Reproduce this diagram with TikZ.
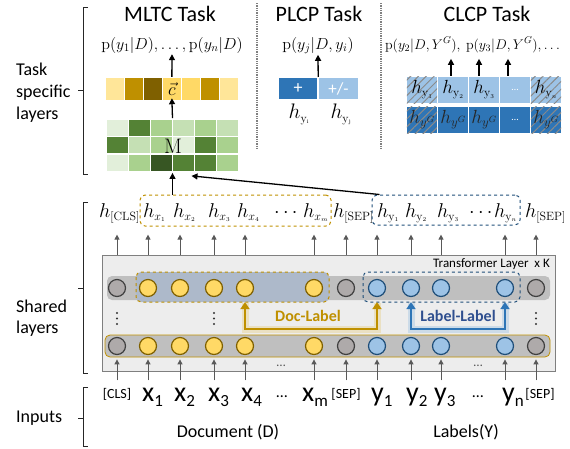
\RequirePackage{fix-cm}
\documentclass[tikz,border=0pt]{standalone}
\usepackage[no-math]{fontspec}
\setmainfont{Carlito}
\usetikzlibrary{arrows.meta,patterns.meta,calc,fit}
\definecolor{gold}{HTML}{BF9000}
\definecolor{golddark}{HTML}{7F6000}
\definecolor{yel}{HTML}{FFD966}
\definecolor{yellight}{HTML}{FFE699}
\definecolor{bblue}{HTML}{2E75B6}
\definecolor{lblue}{HTML}{9DC3E6}
\definecolor{navy}{HTML}{1F4E79}
\definecolor{llnavy}{HTML}{2F4F8F}
\definecolor{cgfill}{HTML}{AEAAAA}
\definecolor{bandgray}{HTML}{BFBFBF}
\definecolor{docfill}{HTML}{ADB9CA}
\definecolor{boxfill}{HTML}{EDEDED}
\definecolor{boxline}{HTML}{7F7F7F}
\definecolor{agray}{HTML}{595959}
\definecolor{hatch}{HTML}{8A8A8A}
\newcommand\fs[1]{\fontsize{#1}{#1}\selectfont}
\newcommand\inlab[2]{{\fs{28}#1}\raisebox{-5pt}{\fs{17}#2}}
% h with a subscript of a set size
\newcommand\hx[2][3pt]{$h$\raisebox{-#1}{\fs{12}$#2$}}
\newcommand\ssn[1]{_{\scriptscriptstyle #1}}
\begin{document}
\begin{tikzpicture}[x=1pt,y=-1pt,
  title/.style={anchor=base,inner sep=0,font=\fs{22}},
  side/.style={anchor=base west,inner sep=0,font=\fs{18}},
  bracket/.style={line width=1pt,black!85},
  sepline/.style={line width=1.3pt,gray,densely dotted},
  blkarrow/.style={-{Triangle[length=6pt,width=6pt]},line width=1.3pt,black},
  garrow/.style={-{Triangle[length=5pt,width=5pt]},line width=1pt,agray},
  cellbox/.style={rectangle,inner sep=0,minimum width=#1},
  hlab/.style={anchor=base west,inner sep=0,font=\fs{20}},
  inlbl/.style={anchor=base west,inner sep=0},
  small/.style={anchor=base,inner sep=0,font=\fs{14}},
  hatchfill/.style={pattern={Lines[angle=45,distance=5.5pt,line width=1pt]},pattern color=hatch},
  cg/.style={circle,minimum size=17,inner sep=0,line width=1.2pt,draw=black!75,fill=cgfill},
  cy/.style={circle,minimum size=17,inner sep=0,line width=1.2pt,draw=golddark,fill=yel},
  cb/.style={circle,minimum size=17,inner sep=0,line width=1.2pt,draw=navy,fill=lblue},
]
\useasboundingbox (0,0) rectangle (570,448);

% ---------- titles and separators
\node[title] (t1) at (170,21) {MLTC Task};
\node[title] (t2) at (319,21) {PLCP Task};
\node[title] (t3) at (487,21) {CLCP Task};
\draw[sepline] (257,3) -- (257,148);
\draw[sepline] (381,3) -- (381,150);

% ---------- side labels and brackets
\draw[bracket] (88,7) -- (83,7) -- (83,174) -- (88,174);
\draw[bracket] (78,90) -- (83,90);
\node[side] (s1) at (16,75) {Task};
\node[side] (s2) at (16,97) {specific};
\node[side] (s3) at (16,119) {layers};

\draw[bracket] (88,202) -- (83,202) -- (83,373) -- (88,373);
\draw[bracket] (78,288) -- (83,288);
\node[side] (s4) at (16,312) {Shared};
\node[side] (s5) at (16,333) {layers};

\draw[bracket] (88,387) -- (83,387) -- (83,446) -- (88,446);
\draw[bracket] (78,418) -- (83,418);
\node[side] (s6) at (16,422) {Inputs};

% ---------- MLTC
\node[anchor=base,inner sep=2,font=\fs{16}] (pm) at (172,49) {$\mathrm{p}(y_1|D), \ldots, \mathrm{p}(y_n|D)$};
\foreach \c [count=\i from 0] in {FFE699,BF9000,7F6000,FFD966,FFD966,BF9000,FFE699}{
  \definecolor{tmpc}{HTML}{\c}
  \node[cellbox=17.7,minimum height=22,fill=tmpc] (cy\i) at (114.85+19*\i,89) {};
}
\node[inner sep=0,font=\fs{18}] (cvec) at (cy3) {$\vec{c}$};
\foreach \r/\row in {1/{E2EFDA,548235,A9D18E,C5E0B4,A9D18E,C5E0B4},
                     2/{548235,C5E0B4,A9D18E,E2EFDA,548235,A9D18E},
                     3/{E2EFDA,A9D18E,375623,548235,548235,A9D18E}}{
  \foreach \c [count=\k from 1] in \row {
    \definecolor{tmpc}{HTML}{\c}
    \node[cellbox=21,minimum height=16,fill=tmpc] (g\r\k) at (95.5+22*\k,110+17.5*\r) {};
  }
}
\node[fit=(g11)(g36),inner sep=0] (gmat) {};
\node[inner sep=0,font=\fs{21}] (mlab) at (173,146) {$\mathrm{M}$};
\draw[blkarrow] ($(cy3.north)+(0,-1)$) -- ($(pm.south)+(0,-1)$);
\draw[blkarrow] ($(gmat.north)+(0,-1)$) -- ($(cy3.south)+(0,-2)$);

% ---------- PLCP
\node[anchor=base,inner sep=2,font=\fs{16}] (pp) at (318,49) {$\mathrm{p}(y_j|D, y_i)$};
\node[cellbox=38,minimum height=21,fill=bblue,text=white,font=\fs{18}] (plus) at (298,88.5) {+};
\node[cellbox=39,minimum height=21,fill=lblue,text=white,font=\fs{17}] (pmin) at (338.5,88.5) {+/-};
\draw[blkarrow] ($(plus.north east)+(1,-1)$) -- ($(pp.south)+(0,-1)$);
\node[anchor=base,inner sep=0,font=\fs{21}] (hyi) at (299,118) {\hx[4pt]{\mathrm{y}\ssn{\mathrm{i}}}};
\node[anchor=base,inner sep=0,font=\fs{21}] (hyj) at (341,118) {\hx[4pt]{\mathrm{y}\ssn{\mathrm{j}}}};

% ---------- CLCP
\node[anchor=base,inner sep=2,font=\fs{14}] (pc) at (472.5,49) {$\mathrm{p}(y_2|D, Y^G),\ \mathrm{p}(y_3|D, Y^G), \ldots$};
\foreach \i in {0,...,4}{
  \node[cellbox=30,minimum height=26,fill=lblue] (ct\i) at (422+31*\i,90) {};
  \node[cellbox=30,minimum height=26,fill=bblue] (cb\i) at (422+31*\i,120) {};
}
\foreach \i in {0,4}{
  \fill[hatchfill] (ct\i.south west) rectangle (ct\i.north east);
  \fill[hatchfill] (cb\i.south west) rectangle (cb\i.north east);
}
\foreach \i/\s in {0/1,1/2,2/3,4/n}{
  \node[inner sep=0,font=\fs{19}] (ct\i t) at (ct\i) {\hx[3pt]{\mathrm{y}\ssn{\s}}};
}
\foreach \i in {0,1,2,4}{
  \node[inner sep=0,font=\fs{19},text=black!85] (cb\i t) at (cb\i) {$h$\raisebox{-3pt}{\fs{13}$y^{G}$}};
}
\node[inner sep=0,font=\fs{10},text=white] (ct3t) at (ct3) {…};
\node[inner sep=0,font=\fs{10},text=white] (cb3t) at (cb3) {…};
\draw[blkarrow] ($(ct1.north)+(-2,-1)$) -- ($(ct1.north)+(-2,-18)$);
\draw[blkarrow] ($(ct2.north)+(-5,-1)$) -- ($(ct2.north)+(-5,-18)$);
\draw[blkarrow] ($(ct3.north)+(-7,-1)$) -- ($(ct3.north)+(-7,-18)$);

% ---------- hidden-state row
\node[hlab] (hcls) at (99,217) {\hx[3.5pt]{\mathrm{[CLS]}}};
\node[hlab] (hx1) at (143,217) {\hx{x\ssn{1}}};
\node[hlab] (hx2) at (173,217) {\hx{x\ssn{2}}};
\node[hlab] (hx3) at (208,217) {\hx{x\ssn{3}}};
\node[hlab] (hx4) at (237,217) {\hx{x\ssn{4}}};
\node[hlab] (hd1) at (274,217) {$\cdots$};
\node[hlab] (hxm) at (303,217) {\hx{x\ssn{m}}};
\node[hlab] (hs1) at (333,217) {\hx[3.5pt]{\mathrm{[SEP]}}};
\node[hlab] (hy1) at (377,217) {\hx{\mathrm{y}\ssn{1}}};
\node[hlab] (hy2) at (405,217) {\hx{\mathrm{y}\ssn{2}}};
\node[hlab] (hy3) at (437,217) {\hx{\mathrm{y}\ssn{3}}};
\node[hlab] (hd2) at (469,217) {$\cdots$};
\node[hlab] (hyn) at (494,217) {\hx{\mathrm{y}\ssn{n}}};
\node[hlab] (hs2) at (525,217) {\hx[3.5pt]{\mathrm{[SEP]}}};
\node[draw=gold,dashed,line width=1pt,rounded corners=5,minimum width=191,minimum height=31,inner sep=0] (hdoc) at (235.5,210.5) {};
\node[draw=navy,dashed,line width=1pt,rounded corners=5,minimum width=148,minimum height=30,inner sep=0] (hlbl) at (446,210) {};

\draw[blkarrow] (hdoc.north -| gmat.south) -- ($(gmat.south)+(0,2)$);
\draw[blkarrow] ($(hlbl.north west)+(8,0)$) -- ($(gmat.south)+(19,5)$);

% ---------- transformer block
\node[draw=boxline,fill=boxfill,line width=0.8pt,minimum width=453,minimum height=116,inner sep=0] (tbox) at (328.5,313) {};
\node[anchor=base east,inner sep=0,font=\fs{13}] (tl) at (550,267) {Transformer Layer \ x K};
\fill[bandgray,rounded corners=5] (107,276) rectangle (550,300);
\filldraw[fill=bandgray,draw=gold,line width=0.8pt,rounded corners=5] (105,335) rectangle (550,357);
\filldraw[fill=docfill,draw=gold,dashed,line width=1pt,rounded corners=5] (136,272) rectangle (329,302);
\draw[navy,dashed,line width=1pt,rounded corners=5] (363,272) rectangle (520,302);
\foreach \x/\t [count=\i] in {117/cg,148/cy,180/cy,214/cy,245/cy,314/cy,346/cg,377/cb,411/cb,441/cb,505/cb,536/cg}{
  \node[\t] (u\i) at (\x,288) {};
  \node[\t] (b\i) at (\x,346) {};
  \draw[garrow] (u\i |- tbox.north) -- ++(0,-20);
  \draw[garrow] ($(b\i |- tbox.south)+(0,9)$) -- ($(b\i |- tbox.south)+(0,-12)$);
}
\foreach \x in {117,214,536}{
  \fill[black!80] (\x,313) circle (1.1) (\x,318.5) circle (1.1) (\x,324) circle (1.1);
}
\node[anchor=base,inner sep=0,font=\fs{13},text=agray] (bd1) at (281,366) {…};
\node[anchor=base,inner sep=0,font=\fs{13},text=agray] (bd2) at (478,366) {…};

% Doc-Label / Label-Label arrows
\draw[line width=7pt,gold!35,opacity=0.6] ($(u5.south)+(0,6)$) |- ($(u8.south)+(0,32)$) -- ($(u8.south)+(0,6)$);
\draw[{Triangle[length=7pt,width=9pt]}-{Triangle[length=7pt,width=9pt]},line width=2.6pt,gold] ($(u5.south)+(0,5)$) |- ($(u8.south)+(0,32)$) -- ($(u8.south)+(0,5)$);
\draw[line width=7pt,bblue!35,opacity=0.6] ($(u9.south)+(0,6)$) |- ($(u11.south)+(0,32)$) -- ($(u11.south)+(0,6)$);
\draw[{Triangle[length=7pt,width=9pt]}-{Triangle[length=7pt,width=9pt]},line width=2.6pt,bblue] ($(u9.south)+(0,5)$) |- ($(u11.south)+(0,32)$) -- ($(u11.south)+(0,5)$);
\node[inner sep=0,font=\bfseries\fs{16},text=gold] (dl) at (308,316) {Doc-Label};
\node[inner sep=0,font=\bfseries\fs{16},text=llnavy] (ll) at (458,316) {Label-Label};

% ---------- inputs
\node[small] (icls) at (117,398) {[CLS]};
\node[inlbl] (ix1) at (142,401) {\inlab{x}{1}};
\node[inlbl] (ix2) at (174,401) {\inlab{x}{2}};
\node[inlbl] (ix3) at (208,401) {\inlab{x}{3}};
\node[inlbl] (ix4) at (241,401) {\inlab{x}{4}};
\node[anchor=base,inner sep=0,font=\fs{16}] (id1) at (282,397) {…};
\node[inlbl] (ixm) at (302,401) {\inlab{x}{m}};
\node[small] (isep1) at (346,398) {[SEP]};
\node[inlbl] (iy1) at (371,401) {\inlab{y}{1}};
\node[inlbl] (iy2) at (406,401) {\inlab{y}{2}};
\node[inlbl] (iy3) at (434,401) {\inlab{y}{3}};
\node[anchor=base,inner sep=0,font=\fs{16}] (id2) at (478,397) {…};
\node[inlbl] (iyn) at (502,401) {\inlab{y}{n}};
\node[small] (isep2) at (540,398) {[SEP]};
\node[anchor=base,inner sep=0,font=\fs{18}] (docl) at (228,437) {Document (D)};
\node[anchor=base,inner sep=0,font=\fs{18}] (labl) at (466,437) {Labels(Y)};
\end{tikzpicture}
\end{document}
